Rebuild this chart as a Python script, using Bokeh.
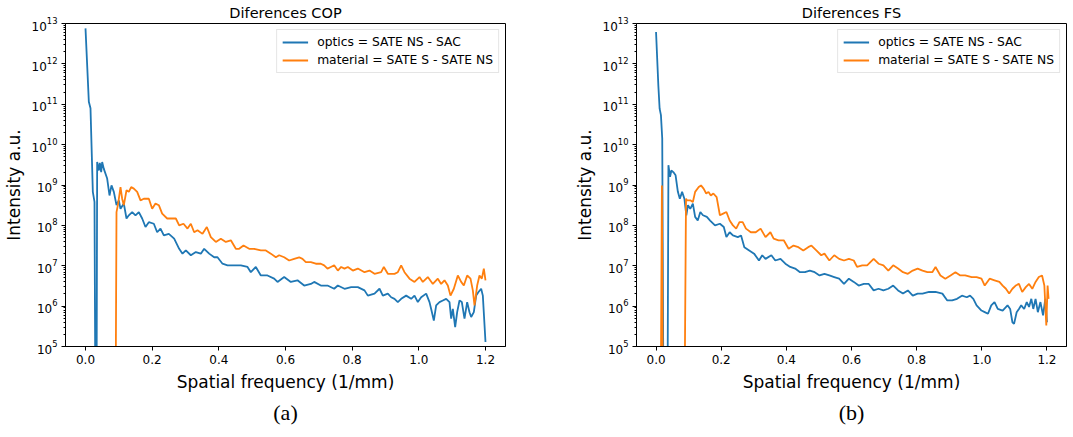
from bokeh.plotting import figure
from bokeh.layouts import row
from bokeh.models import Range1d, Title, Legend, LegendItem, FixedTicker, PrintfTickFormatter
from bokeh.embed import file_html
from bokeh.resources import INLINE

# ---------------- data (log10 of intensity) ----------------
# values of 3.0 mean "below the plotted range" (negative / off-scale)
cop_optics_x = [0.000, 0.010, 0.015, 0.022, 0.027, 0.030, 0.033, 0.035, 0.040, 0.043, 0.047, 0.050, 0.055,
                0.065, 0.072, 0.078, 0.085, 0.093, 0.100, 0.105, 0.115, 0.123, 0.130, 0.140, 0.150, 0.160,
                0.170, 0.180, 0.190, 0.205, 0.215, 0.225, 0.235, 0.250, 0.266, 0.281, 0.291, 0.301, 0.316,
                0.331, 0.346, 0.356, 0.371, 0.386, 0.396, 0.411, 0.426, 0.446, 0.466, 0.486, 0.496, 0.511,
                0.526, 0.546, 0.566, 0.576, 0.596, 0.616, 0.636, 0.656, 0.676, 0.686, 0.706, 0.726, 0.746,
                0.757, 0.777, 0.797, 0.817, 0.837, 0.847, 0.867, 0.882, 0.892, 0.907, 0.917, 0.927, 0.937,
                0.947, 0.962, 0.977, 0.987, 0.997, 1.007, 1.022, 1.032, 1.037, 1.045, 1.052, 1.062, 1.072,
                1.082, 1.092, 1.097, 1.102, 1.109, 1.115, 1.122, 1.129, 1.137, 1.145, 1.152, 1.157, 1.165,
                1.172, 1.179, 1.187, 1.192, 1.200]
cop_optics_log = [12.88, 11.06, 10.90, 8.83, 8.58, 3.0, 3.0, 9.57, 9.36, 9.55, 9.32, 9.57, 9.40,
                  9.16, 8.74, 8.99, 8.83, 8.50, 8.62, 8.41, 8.54, 8.17, 8.25, 8.33, 8.25, 8.33,
                  8.17, 7.96, 8.08, 8.04, 7.83, 7.92, 7.75, 7.79, 7.67, 7.42, 7.30, 7.38, 7.26,
                  7.34, 7.30, 7.42, 7.30, 7.21, 7.21, 7.05, 7.01, 7.01, 7.01, 6.97, 6.84, 6.97,
                  6.76, 6.76, 6.68, 6.60, 6.72, 6.60, 6.64, 6.51, 6.55, 6.60, 6.51, 6.51, 6.43,
                  6.51, 6.43, 6.47, 6.47, 6.39, 6.26, 6.31, 6.43, 6.26, 6.31, 6.22, 6.18, 6.10,
                  6.18, 6.26, 6.18, 6.26, 6.10, 6.22, 6.31, 6.10, 5.93, 5.64, 6.02, 6.10, 6.14,
                  6.18, 6.10, 5.69, 5.93, 5.48, 5.85, 6.14, 6.10, 5.69, 6.10, 5.85, 5.73, 5.85,
                  6.26, 6.35, 6.43, 6.26, 5.11]

cop_material_x = [0.090, 0.093, 0.098, 0.105, 0.110, 0.115, 0.123, 0.130, 0.137, 0.145, 0.155, 0.165,
                  0.175, 0.190, 0.200, 0.210, 0.220, 0.230, 0.245, 0.261, 0.271, 0.281, 0.294, 0.306,
                  0.316, 0.326, 0.336, 0.351, 0.364, 0.376, 0.391, 0.406, 0.421, 0.436, 0.451, 0.461,
                  0.474, 0.491, 0.506, 0.526, 0.541, 0.556, 0.571, 0.581, 0.596, 0.611, 0.626, 0.641,
                  0.651, 0.661, 0.676, 0.691, 0.706, 0.716, 0.726, 0.736, 0.746, 0.757, 0.767, 0.777,
                  0.787, 0.802, 0.817, 0.837, 0.852, 0.867, 0.887, 0.895, 0.907, 0.927, 0.937, 0.947,
                  0.957, 0.972, 0.987, 1.002, 1.012, 1.027, 1.042, 1.057, 1.067, 1.077, 1.087, 1.095,
                  1.105, 1.117, 1.127, 1.135, 1.145, 1.155, 1.162, 1.167, 1.175, 1.182, 1.189, 1.195,
                  1.200]
cop_material_log = [3.0, 8.33, 8.54, 8.95, 8.66, 8.50, 8.87, 8.83, 8.95, 8.91, 8.83, 8.62,
                    8.66, 8.66, 8.41, 8.54, 8.50, 8.29, 8.17, 8.17, 8.17, 8.00, 8.04, 7.92,
                    8.04, 7.83, 7.88, 7.79, 7.96, 7.71, 7.59, 7.67, 7.59, 7.63, 7.42, 7.42,
                    7.50, 7.42, 7.42, 7.38, 7.38, 7.30, 7.21, 7.26, 7.21, 7.13, 7.17, 7.21,
                    7.17, 7.09, 7.09, 7.05, 7.05, 7.01, 6.93, 6.97, 7.01, 6.88, 6.97, 6.93,
                    6.97, 6.88, 6.93, 6.84, 6.88, 6.80, 6.84, 6.97, 6.80, 6.80, 6.84, 7.01,
                    6.84, 6.68, 6.60, 6.72, 6.60, 6.72, 6.55, 6.68, 6.55, 6.64, 6.51, 6.26,
                    6.43, 6.76, 6.60, 6.51, 6.76, 6.68, 6.39, 6.02, 6.51, 6.76, 6.68, 6.93,
                    6.64]

fs_optics_x = [0.000, 0.007, 0.011, 0.015, 0.019, 0.023, 0.035, 0.038, 0.043, 0.047, 0.053, 0.060,
               0.067, 0.073, 0.080, 0.087, 0.093, 0.098, 0.105, 0.113, 0.120, 0.128, 0.136, 0.144,
               0.156, 0.166, 0.181, 0.196, 0.208, 0.216, 0.226, 0.236, 0.251, 0.261, 0.271, 0.286,
               0.301, 0.316, 0.326, 0.336, 0.354, 0.366, 0.382, 0.397, 0.412, 0.427, 0.442, 0.457,
               0.472, 0.487, 0.502, 0.517, 0.532, 0.547, 0.562, 0.577, 0.592, 0.607, 0.622, 0.638,
               0.653, 0.668, 0.683, 0.698, 0.713, 0.728, 0.743, 0.758, 0.773, 0.788, 0.803, 0.818,
               0.838, 0.858, 0.879, 0.894, 0.909, 0.924, 0.939, 0.954, 0.964, 0.974, 0.984, 0.999,
               1.009, 1.019, 1.029, 1.039, 1.049, 1.064, 1.079, 1.087, 1.094, 1.099, 1.107, 1.114,
               1.121, 1.130, 1.138, 1.145, 1.152, 1.158, 1.165, 1.172, 1.180, 1.188, 1.195, 1.200]
fs_optics_log = [12.79, 11.47, 10.89, 10.73, 10.15, 3.0, 3.0, 9.49, 9.20, 9.36, 9.32, 9.24,
                 8.83, 8.66, 8.83, 8.66, 8.25, 8.50, 8.41, 8.54, 8.21, 8.12, 8.33, 8.25,
                 8.21, 8.12, 8.00, 8.04, 7.96, 7.71, 7.83, 7.75, 7.71, 7.75, 7.46, 7.38,
                 7.30, 7.13, 7.26, 7.17, 7.26, 7.13, 7.17, 7.05, 6.97, 6.93, 6.84, 6.84,
                 6.88, 6.84, 6.76, 6.80, 6.76, 6.72, 6.68, 6.55, 6.68, 6.60, 6.51, 6.55,
                 6.55, 6.39, 6.43, 6.39, 6.43, 6.51, 6.39, 6.31, 6.39, 6.26, 6.31, 6.31,
                 6.35, 6.35, 6.31, 6.14, 6.14, 6.18, 6.26, 6.22, 6.26, 6.18, 6.02, 5.89,
                 5.85, 5.81, 6.02, 6.10, 5.93, 5.89, 6.02, 5.93, 5.60, 5.56, 5.85, 5.93,
                 6.02, 5.93, 6.10, 5.98, 6.18, 5.93, 6.18, 5.85, 6.10, 5.77, 6.18, 5.60]

fs_material_x = [0.014, 0.018, 0.021, 0.087, 0.092, 0.095, 0.105, 0.113, 0.120, 0.131, 0.138, 0.146,
                 0.154, 0.161, 0.168, 0.176, 0.186, 0.196, 0.206, 0.216, 0.226, 0.236, 0.246, 0.256,
                 0.266, 0.276, 0.291, 0.306, 0.321, 0.336, 0.351, 0.361, 0.376, 0.392, 0.407, 0.422,
                 0.437, 0.452, 0.467, 0.477, 0.492, 0.507, 0.517, 0.532, 0.547, 0.562, 0.577, 0.592,
                 0.607, 0.617, 0.633, 0.648, 0.668, 0.683, 0.698, 0.713, 0.728, 0.743, 0.758, 0.773,
                 0.788, 0.803, 0.818, 0.833, 0.848, 0.858, 0.873, 0.888, 0.904, 0.919, 0.934, 0.949,
                 0.969, 0.984, 0.999, 1.009, 1.024, 1.039, 1.054, 1.064, 1.074, 1.084, 1.094, 1.104,
                 1.114, 1.124, 1.135, 1.145, 1.155, 1.165, 1.175, 1.185, 1.192, 1.198, 1.202, 1.205]
fs_material_log = [3.0, 8.99, 3.0, 3.0, 8.66, 8.62, 8.62, 8.58, 8.83, 8.95, 8.99, 8.91,
                   8.79, 8.83, 8.74, 8.79, 8.70, 8.25, 8.29, 8.33, 8.12, 8.00, 7.92, 8.08,
                   8.08, 7.92, 7.83, 7.83, 7.92, 7.71, 7.83, 7.67, 7.63, 7.63, 7.42, 7.50,
                   7.46, 7.38, 7.46, 7.50, 7.38, 7.26, 7.30, 7.13, 7.26, 7.17, 7.13, 7.17,
                   7.13, 6.97, 7.01, 7.01, 7.17, 7.05, 7.01, 6.88, 7.01, 6.93, 6.84, 6.80,
                   6.88, 6.93, 6.88, 6.84, 6.84, 6.97, 6.76, 6.68, 6.76, 6.84, 6.76, 6.76,
                   6.72, 6.72, 6.68, 6.51, 6.68, 6.64, 6.60, 6.51, 6.43, 6.31, 6.43, 6.51,
                   6.55, 6.35, 6.47, 6.55, 6.43, 6.60, 6.72, 6.76, 6.51, 5.52, 6.51, 6.18]

titles = ["Diferences COP", "Diferences FS"]
captions = ["(a)", "(b)"]
series_labels = ["optics = SATE NS - SAC", "material = SATE S - SATE NS"]
x_label = "Spatial frequency (1/mm)"
y_label = "Intensity a.u."
x_ticks = [0.0, 0.2, 0.4, 0.6, 0.8, 1.0, 1.2]
y_exponents = [5, 6, 7, 8, 9, 10, 11, 12, 13]

BLUE = "#1f77b4"
ORANGE = "#ff7f0e"
FONT = "DejaVu Sans"


def make_panel(title, caption, ox, oy, mx, my, frame_w, left, right):
    p = figure(frame_width=frame_w, frame_height=323,
               x_range=Range1d(-0.06, 1.26), y_range=Range1d(1e5, 1e13),
               y_axis_type="log", output_backend="svg", toolbar_location=None,
               min_border_left=left, min_border_right=right, min_border_top=0, min_border_bottom=0)
    p.title.text = title
    p.title.align = "center"
    p.title.text_font = FONT
    p.title.text_font_size = "14.5px"
    p.title.text_font_style = "normal"
    p.title.text_color = "black"
    p.title.standoff = 5
    p.title.offset = 0

    p.grid.visible = False
    p.outline_line_color = "black"
    p.outline_line_width = 1
    p.background_fill_color = "white"
    p.border_fill_color = "white"

    r1 = p.line(list(ox), [10 ** v for v in oy], line_color=BLUE, line_width=1.8)
    r2 = p.line(list(mx), [10 ** v for v in my], line_color=ORANGE, line_width=1.8)

    p.xaxis.ticker = FixedTicker(ticks=x_ticks)
    p.xaxis.formatter = PrintfTickFormatter(format="%.1f")
    major = [10.0 ** e for e in y_exponents]
    minor = [k * 10.0 ** e for e in y_exponents[:-1] for k in range(2, 10)]
    p.yaxis.ticker = FixedTicker(ticks=major, minor_ticks=minor)

    for ax in (p.xaxis[0], p.yaxis[0]):
        ax.axis_line_color = "black"
        ax.major_tick_line_color = "black"
        ax.minor_tick_line_color = "black"
        ax.major_tick_in = 0
        ax.major_tick_out = 4
        ax.minor_tick_in = 0
        ax.minor_tick_out = 2
        ax.major_label_text_font = FONT
        ax.major_label_text_font_size = "12px"
        ax.major_label_text_color = "black"
        ax.axis_label_text_font = FONT
        ax.axis_label_text_font_size = "17px"
        ax.axis_label_text_font_style = "normal"
        ax.axis_label_text_color = "black"
        ax.major_label_standoff = 4
        ax.axis_label_standoff = 5
    p.xaxis.minor_tick_line_color = None
    p.xaxis.axis_label = x_label
    p.yaxis.axis_label = y_label

    legend = Legend(items=[LegendItem(label=series_labels[0], renderers=[r1]),
                           LegendItem(label=series_labels[1], renderers=[r2])],
                    location="top_right", margin=6, padding=5, spacing=4,
                    glyph_width=26, glyph_height=14, label_height=14, label_standoff=9,
                    label_text_font=FONT, label_text_font_size="12.3px", label_text_color="black",
                    border_line_color="#cccccc", border_line_width=1,
                    background_fill_color="white", background_fill_alpha=0.8)
    p.add_layout(legend)

    cap = Title(text=caption, align="center", text_font="Liberation Serif",
                text_font_size="22px", text_font_style="normal", text_color="black",
                standoff=7)
    p.add_layout(cap, "below")
    return p


p1 = make_panel(titles[0], captions[0], cop_optics_x, cop_optics_log, cop_material_x, cop_material_log,
                440, 60, 66)
p2 = make_panel(titles[1], captions[1], fs_optics_x, fs_optics_log, fs_material_x, fs_material_log,
                430, 60, 1)

layout = row(p1, p2)
open("out.html", "w").write(file_html(layout, INLINE))
